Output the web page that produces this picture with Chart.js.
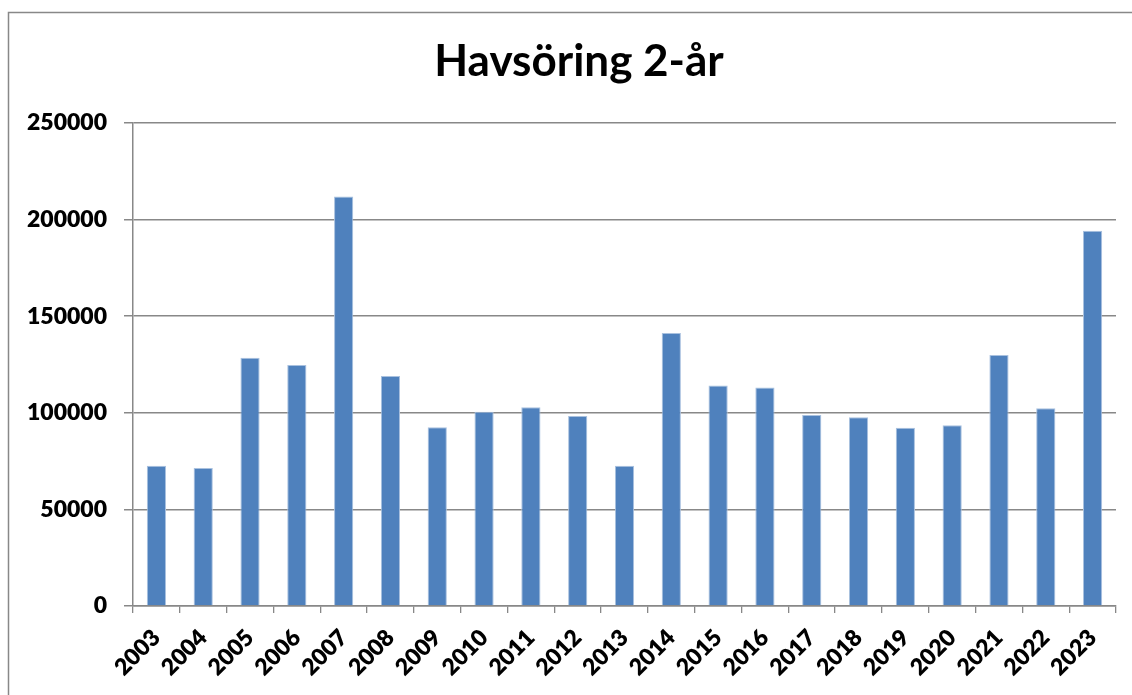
<!DOCTYPE html>
<html>
<head>
<meta charset="utf-8">
<script src="https://cdn.jsdelivr.net/npm/chart.js@4.4.1/dist/chart.umd.min.js"></script>
<style>
html,body{margin:0;padding:0;background:#fff;}
#wrap{position:relative;width:1132px;height:695px;}
</style>
</head>
<body>
<div id="wrap"><canvas id="c" width="1132" height="695"></canvas></div>
<script>
const years = ["2003","2004","2005","2006","2007","2008","2009","2010","2011","2012","2013","2014","2015","2016","2017","2018","2019","2020","2021","2022","2023"];
const values = [72600,71400,128500,124800,212000,119100,92500,100600,102900,98400,72600,141300,114100,113100,98900,97700,92200,93600,129900,102400,194200];
const yTicks = [0,50000,100000,150000,200000,250000];
const titleText = "Havsöring 2-år";

const frame = {
  id:'frame',
  beforeDraw(chart){
    const ctx = chart.ctx;
    ctx.save();
    ctx.fillStyle='#fff';
    ctx.fillRect(0,0,chart.width,chart.height);
    ctx.strokeStyle='#888';
    ctx.lineWidth=1.5;
    ctx.strokeRect(8.5,12.5,2000,2000);
    ctx.restore();
  },
  afterDraw(chart){
    const ctx = chart.ctx;
    ctx.save();
    ctx.fillStyle='#000';
    ctx.font='bold 44px Lato';
    ctx.textAlign='center';
    ctx.textBaseline='middle';
    ctx.fillText(titleText, 579, 62);
    ctx.restore();
  }
};

const tickFont = {family:'Lato',size:23,weight:'800'};

new Chart(document.getElementById('c'), {
  type:'bar',
  data:{
    labels: years,
    datasets:[{
      data: values,
      backgroundColor:'#4F81BD',
      borderColor:'#A9C1DF',
      borderWidth:1,
      categoryPercentage:1,
      barPercentage:0.41
    }]
  },
  options:{
    responsive:false,
    animation:false,
    devicePixelRatio:1,
    layout:{padding:{left:0,right:16,top:123,bottom:0}},
    plugins:{
      legend:{display:false},
      tooltip:{enabled:false},
      title:{display:false}
    },
    scales:{
      x:{
        grid:{display:true,drawOnChartArea:false,drawTicks:true,tickLength:7,color:'#888',lineWidth:1.3},
        border:{display:true,color:'#888',width:1.5},
        ticks:{color:'#000',font:tickFont,maxRotation:45,minRotation:45,padding:11,autoSkip:false},
        afterFit(s){ s.height = 89; }
      },
      y:{
        min:0,max:250000,
        afterBuildTicks(s){ s.ticks = yTicks.map(v=>({value:v})); },
        grid:{color:'#888',lineWidth:1.5,tickLength:9,drawTicks:true},
        border:{display:true,color:'#888',width:1.5},
        ticks:{color:'#000',font:tickFont,padding:17,callback:v=>String(v)},
        afterFit(s){ s.width = 133; }
      }
    }
  },
  plugins:[frame]
});
</script>
</body>
</html>
